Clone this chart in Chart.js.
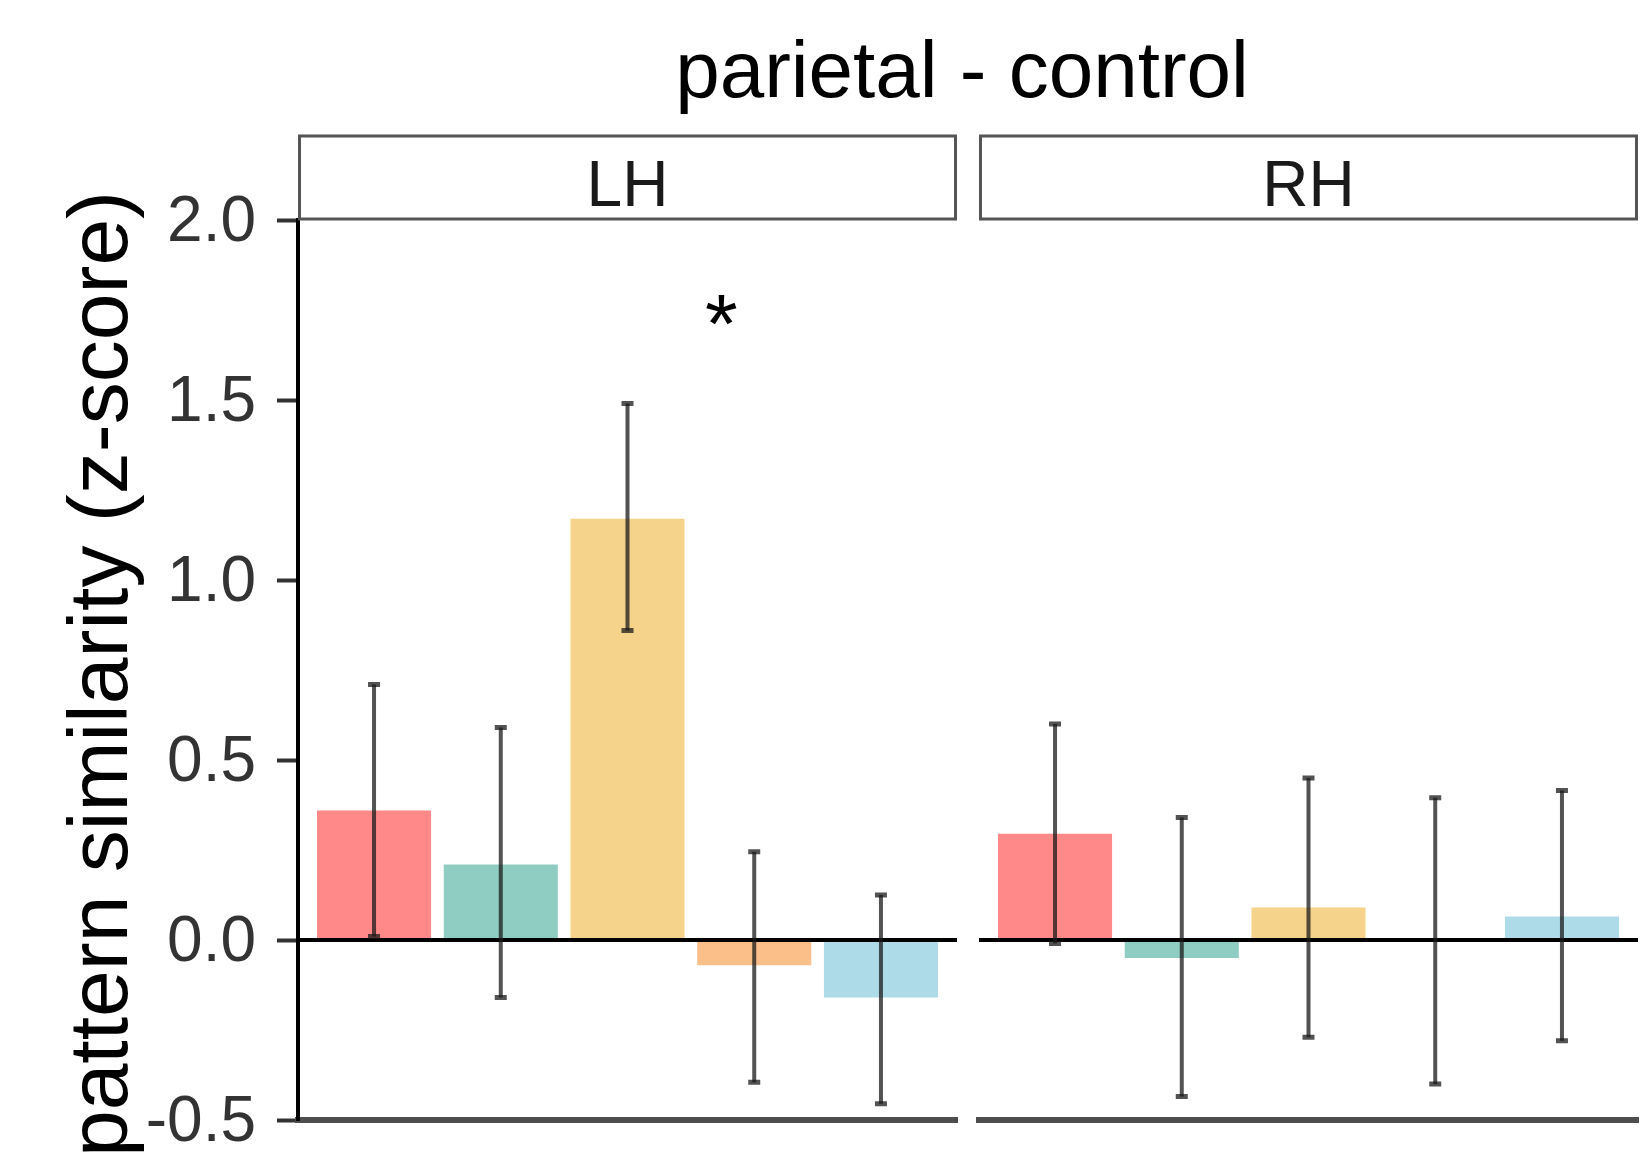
<!DOCTYPE html>
<html>
<head>
<meta charset="utf-8">
<title>parietal - control</title>
<script src="https://cdn.jsdelivr.net/npm/chart.js@4"></script>
<style>
  body { margin: 0; background: #fff; }
  #fig { position: relative; width: 1640px; height: 1162px; overflow: hidden; font-family: "Liberation Sans", Arial, sans-serif; }
  #titulo { position: absolute; left: 662px; top: 30px; width: 600px; text-align: center; font-size: 80px; line-height: 80px; color: #000; }
  canvas { position: absolute; top: 0; }
  #lh { left: 0; }
  #rh { left: 960px; }
</style>
</head>
<body>
<div id="fig">
  <div id="titulo">parietal - control</div>
  <canvas id="lh" width="960" height="1162"></canvas>
  <canvas id="rh" width="680" height="1162"></canvas>
</div>
<script>
const FONT = '"Liberation Sans", Arial, sans-serif';

// five conditions per hemisphere, same order/colours in both panels
const barSlots = [1, 2, 3, 4, 5];
const barColors = ['#FF8888', '#8FCDC2', '#F6D38A', '#FBBF8A', '#ADDBE8'];

const lhMean  = [0.36, 0.21, 1.17, -0.07, -0.16];
const lhUpper = [0.71, 0.59, 1.49, 0.245, 0.125];
const lhLower = [0.01, -0.16, 0.86, -0.395, -0.455];

const rhMean  = [0.295, -0.05, 0.09, 0.0, 0.065];
const rhUpper = [0.60, 0.34, 0.45, 0.395, 0.415];
const rhLower = [-0.01, -0.435, -0.27, -0.40, -0.28];

const yTicks = [-0.5, 0.0, 0.5, 1.0, 1.5, 2.0];
const yTickLabels = ['-0.5', '0.0', '0.5', '1.0', '1.5', '2.0'];

const lhStars = [{ x: 3.74, y: 1.75, text: '*' }];

// strip box on top, zero line, significance marks
const facetPlugin = {
  id: 'facet',
  afterDatasetsDraw(chart, args, opts) {
    const { ctx, chartArea: a, scales: { x, y } } = chart;
    const y0 = y.getPixelForValue(0);
    ctx.save();
    ctx.strokeStyle = '#000';
    ctx.lineWidth = 4;
    ctx.beginPath();
    ctx.moveTo(a.left, y0);
    ctx.lineTo(a.right, y0);
    ctx.stroke();

    ctx.fillStyle = '#000';
    ctx.font = '84px ' + FONT;
    ctx.textAlign = 'center';
    ctx.textBaseline = 'alphabetic';
    (opts.stars || []).forEach(s => {
      const m = ctx.measureText(s.text);
      const py = y.getPixelForValue(s.y) + (m.actualBoundingBoxAscent - m.actualBoundingBoxDescent) / 2;
      ctx.fillText(s.text, x.getPixelForValue(s.x), py);
    });
    ctx.restore();
  },
  afterDraw(chart, args, opts) {
    const { ctx, chartArea: a } = chart;
    const top = a.top - 84;
    ctx.save();
    ctx.fillStyle = '#fff';
    ctx.fillRect(a.left, top, a.right - a.left, a.top - top);
    ctx.strokeStyle = '#555';
    ctx.lineWidth = 3;
    ctx.strokeRect(a.left + 1.5, top, a.right - a.left - 3, a.top - top - 1);
    ctx.fillStyle = '#1a1a1a';
    ctx.font = '64px ' + FONT;
    ctx.textAlign = 'center';
    ctx.textBaseline = 'alphabetic';
    ctx.fillText(opts.strip, (a.left + a.right) / 2, a.top - 14);
    ctx.restore();
  }
};

const errorBarsPlugin = {
  id: 'errorBars',
  afterDatasetsDraw(chart, args, opts) {
    const { ctx, scales: { x, y } } = chart;
    ctx.save();
    ctx.strokeStyle = 'rgba(25,25,25,0.75)';
    barSlots.forEach((s, i) => {
      const px = x.getPixelForValue(s);
      const yHi = y.getPixelForValue(opts.upper[i]);
      const yLo = y.getPixelForValue(opts.lower[i]);
      ctx.lineWidth = 4;
      ctx.beginPath();
      ctx.moveTo(px, yHi);
      ctx.lineTo(px, yLo);
      ctx.stroke();
      ctx.lineWidth = 5;
      ctx.beginPath();
      ctx.moveTo(px - 6, yHi); ctx.lineTo(px + 6, yHi);
      ctx.moveTo(px - 6, yLo); ctx.lineTo(px + 6, yLo);
      ctx.stroke();
    });
    ctx.restore();
  }
};

const yTitlePlugin = {
  id: 'yTitle',
  afterDraw(chart, args, opts) {
    if (!opts.text) return;
    const { ctx, chartArea: a } = chart;
    ctx.save();
    ctx.translate(127, (a.top + a.bottom) / 2 + 4);
    ctx.rotate(-Math.PI / 2);
    ctx.fillStyle = '#000';
    ctx.font = '84px ' + FONT;
    ctx.textAlign = 'center';
    ctx.textBaseline = 'alphabetic';
    ctx.fillText(opts.text, 0, 0);
    ctx.restore();
  }
};

function makePanel(id, strip, mean, upper, lower, withAxis, stars) {
  return new Chart(document.getElementById(id), {
    type: 'bar',
    data: {
      datasets: [{
        data: barSlots.map((s, i) => ({ x: s, y: mean[i] })),
        backgroundColor: barColors,
        borderWidth: 0,
        barPercentage: 0.9,
        categoryPercentage: 1.0
      }]
    },
    options: {
      responsive: false,
      animation: false,
      devicePixelRatio: 1,
      layout: { padding: { left: 0, right: withAxis ? 3 : 2, top: 220, bottom: 42 } },
      plugins: {
        legend: { display: false },
        tooltip: { enabled: false },
        facet: { strip: strip, stars: stars },
        errorBars: { upper: upper, lower: lower },
        yTitle: { text: withAxis ? 'pattern similarity (z-score)' : '' }
      },
      scales: {
        x: {
          type: 'linear',
          min: 0.4,
          max: 5.6,
          offset: false,
          afterBuildTicks: s => { s.ticks = barSlots.map(v => ({ value: v })); },
          afterFit: s => { s.height = 0; s.paddingLeft = 0; s.paddingRight = 0; },
          ticks: { display: false },
          grid: { display: false },
          border: { display: true, color: '#4d4d4d', width: 6 }
        },
        y: {
          type: 'linear',
          min: -0.5,
          max: 2.0,
          afterBuildTicks: s => { s.ticks = yTicks.map(v => ({ value: v })); },
          afterFit: s => {
            s.width = withAxis ? 298 : 19;
            s.paddingTop = 0;
            s.paddingBottom = 0;
          },
          ticks: {
            display: withAxis,
            callback: v => yTickLabels[yTicks.indexOf(v)],
            font: { family: FONT, size: 64 },
            color: '#333',
            padding: 21,
            labelOffset: 3
          },
          grid: {
            color: 'rgba(0,0,0,0)',
            drawTicks: withAxis,
            tickLength: 21,
            tickWidth: 4,
            tickColor: '#333'
          },
          border: { display: withAxis, color: '#000', width: 4 }
        }
      }
    },
    plugins: [facetPlugin, errorBarsPlugin, yTitlePlugin]
  });
}

makePanel('lh', 'LH', lhMean, lhUpper, lhLower, true, lhStars);
makePanel('rh', 'RH', rhMean, rhUpper, rhLower, false, []);
</script>
</body>
</html>
